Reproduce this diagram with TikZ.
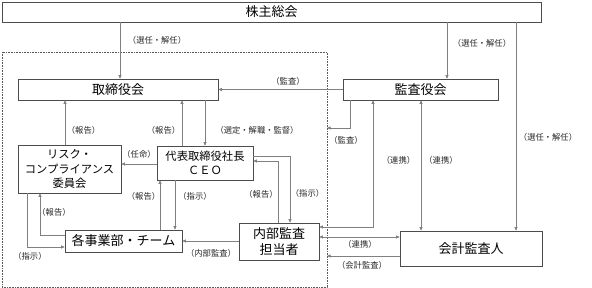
\documentclass[tikz,border=0pt]{standalone}
\usepackage{fontspec}
\setmainfont{Noto Sans CJK JP}
\usetikzlibrary{arrows.meta}
\begin{document}
\begin{tikzpicture}[x=1pt,y=-1pt,
  box/.style={draw=black!70, line width=0.6pt, inner sep=0pt, align=center, font=\fontsize{13}{15}\selectfont},
  sbox/.style={box, font=\fontsize{11.3}{14.5}\selectfont},
  conn/.style={draw=black!50, line width=0.6pt},
  arr/.style={conn, -{Triangle[length=3.5pt,width=3pt]}},
  barr/.style={conn, {Triangle[length=3.5pt,width=3pt]}-{Triangle[length=3.5pt,width=3pt]}},
  lbl/.style={font=\fontsize{8.3}{10}\selectfont, inner sep=0pt, text=black!85}
]
\useasboundingbox (0,0) rectangle (592,288);
% dotted boundary
\draw[black!65, line width=0.8pt, dash pattern=on 0.8pt off 0.8pt] (2,52) rectangle (327,287);
\coordinate (bA) at (327,128);
\coordinate (bB) at (327,256);

% boxes
\node[box, minimum width=539pt, minimum height=20pt] (share) at (271.5,12) {株主総会};
\node[box, minimum width=200pt, minimum height=21pt] (tori) at (118,89.5) {取締役会};
\node[box, minimum width=155pt, minimum height=21pt] (kansa) at (420.5,89.5) {監査役会};
\node[sbox, minimum width=103pt, minimum height=48pt] (risk) at (69.5,169) {リスク・\\コンプライアンス\\委員会};
\node[sbox, minimum width=96pt, minimum height=34pt] (ceo) at (205,163) {代表取締役社長\\ＣＥＯ};
\node[box, minimum width=117pt, minimum height=22pt] (jigyo) at (123.5,241) {各事業部・チーム};
\node[box, minimum width=80pt, minimum height=37pt, font=\fontsize{13}{16}\selectfont] (naibu) at (279,241.5) {内部監査\\担当者};
\node[box, minimum width=142pt, minimum height=35pt] (kaikei) at (471,248.5) {会計監査人};

% connectors
\draw[arr] (120,0 |- share.south) -- (120,0 |- tori.north);
\draw[arr] (447,0 |- share.south) -- (447,0 |- kansa.north);
\draw[arr] (516,0 |- share.south) -- (516,0 |- kaikei.north);
\draw[arr] (kansa.west) -- (tori.east);
\draw[arr] (350,0 |- kansa.south) -- (350,128) -- (bA);
\draw[arr] (182,0 |- ceo.north) -- (182,0 |- tori.south);
\draw[arr] (205,0 |- tori.south) -- (205,0 |- ceo.north);
\draw[arr] (65,0 |- risk.north) -- (65,0 |- tori.south);
\draw[arr] (ceo.west |- 0,164) -- (risk.east |- 0,164);
\draw[arr] (27,0 |- risk.south) -- (27,247) -- (jigyo.west |- 0,247);
\draw[arr] (jigyo.west |- 0,235) -- (40,235) -- (40,0 |- risk.south);
\draw[arr] (160,0 |- jigyo.north) -- (160,0 |- ceo.south);
\draw[arr] (175,0 |- ceo.south) -- (175,0 |- jigyo.north);
\draw[arr] (naibu.west |- 0,241) -- (jigyo.east |- 0,241);
\draw[arr] (278,0 |- naibu.north) -- (278,161) -- (ceo.east |- 0,161);
\draw[arr] (ceo.east |- 0,156) -- (290,156) -- (290,0 |- naibu.north);
\draw[barr] (373,0 |- kansa.south) -- (373,227) -- (naibu.east |- 0,227);
\draw[barr] (421,0 |- kansa.south) -- (421,0 |- kaikei.north);
\draw[barr] (naibu.east |- 0,237) -- (kaikei.west |- 0,237);
\draw[arr] (kaikei.west |- 0,256) -- (bB);

% labels
\node[lbl] (l1) at (157,40) {（選任・解任）};
\node[lbl] (l2) at (482,43) {（選任・解任）};
\node[lbl] (l3) at (548,137) {（選任・解任）};
\node[lbl] (l4) at (288,81) {（監査）};
\node[lbl] (l5) at (346,140) {（監査）};
\node[lbl] (l6) at (83.5,130) {（報告）};
\node[lbl] (l7) at (163.5,130) {（報告）};
\node[lbl] (l8) at (257,130) {（選定・解職・監督）};
\node[lbl] (l9) at (139,154) {（任命）};
\node[lbl] (l10) at (143.5,196.5) {（報告）};
\node[lbl] (l11) at (195,196.5) {（指示）};
\node[lbl] (l12) at (261,194) {（報告）};
\node[lbl] (l13) at (307.5,193) {（指示）};
\node[lbl] (l14) at (54,212) {（報告）};
\node[lbl] (l15) at (30,256.5) {（指示）};
\node[lbl] (l16) at (211,253) {（内部監査）};
\node[lbl] (l17) at (360,244) {（連携）};
\node[lbl] (l18) at (362,265.5) {（会計監査）};
\node[lbl] (l19) at (398.5,160) {（連携）};
\node[lbl] (l20) at (441,160) {（連携）};
\end{tikzpicture}
\end{document}
